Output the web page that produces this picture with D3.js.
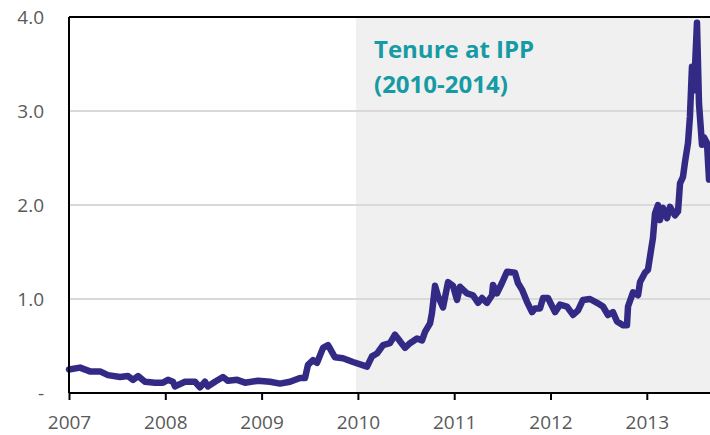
<!DOCTYPE html>
<html>
<head>
<meta charset="utf-8">
<script src="https://cdn.jsdelivr.net/npm/d3@7"></script>
<style>
  body { margin: 0; background: #fff; }
  text { font-family: "Open Sans", sans-serif; }
</style>
</head>
<body>
<svg id="chart" width="710" height="435"></svg>
<script>
// decimal years
let dates = [
  2007.000, 2007.114, 2007.218, 2007.322, 2007.405, 2007.530, 2007.613, 2007.665,
  2007.717, 2007.789, 2007.893, 2007.976, 2008.028, 2008.080, 2008.101, 2008.205,
  2008.308, 2008.360, 2008.412, 2008.443, 2008.516, 2008.599, 2008.651, 2008.745,
  2008.828, 2008.963, 2009.087, 2009.191, 2009.295, 2009.399, 2009.451, 2009.482,
  2009.534, 2009.575, 2009.638, 2009.690, 2009.762, 2009.845, 2009.949, 2010.095,
  2010.146, 2010.198, 2010.261, 2010.333, 2010.385, 2010.416, 2010.489, 2010.541,
  2010.614, 2010.666, 2010.697, 2010.749, 2010.769, 2010.801, 2010.832, 2010.884,
  2010.936, 2010.988, 2011.029, 2011.060, 2011.133, 2011.195, 2011.247, 2011.289,
  2011.341, 2011.393, 2011.403, 2011.444, 2011.496, 2011.548, 2011.631, 2011.662,
  2011.704, 2011.756, 2011.808, 2011.839, 2011.891, 2011.922, 2011.974, 2012.047,
  2012.099, 2012.171, 2012.234, 2012.286, 2012.337, 2012.410, 2012.483, 2012.545,
  2012.597, 2012.649, 2012.691, 2012.753, 2012.794, 2012.805, 2012.857, 2012.909,
  2012.930, 2012.981, 2013.012, 2013.044, 2013.064, 2013.085, 2013.116, 2013.137,
  2013.168, 2013.210, 2013.241, 2013.293, 2013.324, 2013.345, 2013.376, 2013.397,
  2013.428, 2013.448, 2013.469, 2013.490, 2013.521, 2013.542, 2013.573, 2013.594,
  2013.625, 2013.646
]
let values = [
  0.25, 0.27, 0.23, 0.23, 0.19, 0.17, 0.18, 0.14,
  0.18, 0.12, 0.11, 0.11, 0.14, 0.12, 0.07, 0.12,
  0.12, 0.06, 0.12, 0.07, 0.12, 0.17, 0.13, 0.14,
  0.11, 0.13, 0.12, 0.10, 0.12, 0.16, 0.16, 0.30,
  0.35, 0.32, 0.48, 0.51, 0.38, 0.37, 0.33, 0.28,
  0.39, 0.42, 0.51, 0.53, 0.62, 0.58, 0.48, 0.53,
  0.58, 0.56, 0.65, 0.74, 0.85, 1.14, 1.03, 0.91,
  1.18, 1.14, 0.99, 1.13, 1.06, 1.04, 0.96, 1.01,
  0.96, 1.04, 1.15, 1.06, 1.17, 1.29, 1.28, 1.17,
  1.10, 0.97, 0.86, 0.90, 0.90, 1.01, 1.01, 0.86,
  0.94, 0.92, 0.83, 0.88, 0.99, 1.00, 0.96, 0.92,
  0.83, 0.86, 0.76, 0.72, 0.72, 0.92, 1.07, 1.04,
  1.18, 1.28, 1.31, 1.52, 1.65, 1.91, 2.00, 1.84,
  1.97, 1.86, 1.98, 1.89, 1.93, 2.23, 2.30, 2.46,
  2.66, 2.94, 3.47, 3.22, 3.94, 3.08, 2.64, 2.72,
  2.66, 2.27
]
let yearTicks = [2007, 2008, 2009, 2010, 2011, 2012, 2013]
let yTicks = [0, 1, 2, 3, 4]
let yLabels = ["-", "1.0", "2.0", "3.0", "4.0"]
let tenureStart = 2010, tenureEnd = 2014
let noteLines = ["Tenure at IPP", "(2010-2014)"]

let width = 710, height = 435
let margin = {top: 17, left: 69, bottom: 42}

let scales = {
  x: d3.scaleLinear().domain([2007, 2014]).range([margin.left, margin.left + 96.3 * 7]),
  y: d3.scaleLinear().domain([0, 4]).range([height - margin.bottom, margin.top])
}

let svg = d3.select("#chart")
let x0 = scales.x(2007), yb = scales.y(0), yt = scales.y(4)

// shaded tenure band
svg.append("rect")
  .attr("x", scales.x(tenureStart) - 2)
  .attr("y", yt)
  .attr("width", scales.x(tenureEnd) - scales.x(tenureStart))
  .attr("height", yb - yt)
  .attr("fill", "#f0f0f0")

// gridlines
svg.append("g")
  .selectAll("line")
  .data(yTicks.filter(d => d > 0 && d < 4)).enter()
  .append("line")
  .attr("x1", x0).attr("x2", width)
  .attr("y1", d => scales.y(d)).attr("y2", d => scales.y(d))
  .attr("stroke", "#d9d9d9")
  .attr("stroke-width", 2)

// note
svg.append("text")
  .attr("fill", "#169aa4")
  .attr("font-weight", "bold")
  .attr("font-size", 24)
  .selectAll("tspan")
  .data(noteLines).enter()
  .append("tspan")
  .attr("x", 374)
  .attr("y", (d, i) => 58 + i * 35)
  .text(d => d)

// line
let line_generator = d3.line()
  .x((d, i) => scales.x(dates[i]))
  .y(d => scales.y(d))

svg.append("path")
  .datum(values)
  .attr("d", line_generator)
  .attr("fill", "none")
  .attr("stroke", "#322a84")
  .attr("stroke-width", 6.5)
  .attr("stroke-linejoin", "round")
  .attr("stroke-linecap", "round")

// frame: top and left
svg.append("line")
  .attr("x1", x0).attr("x2", width)
  .attr("y1", yt).attr("y2", yt)
  .attr("stroke", "#000").attr("stroke-width", 2)
svg.append("line")
  .attr("x1", x0).attr("x2", x0)
  .attr("y1", yt).attr("y2", yb)
  .attr("stroke", "#000").attr("stroke-width", 2)

// x axis
let x_axis = d3.axisBottom(scales.x)
  .tickValues(yearTicks)
  .tickFormat(d3.format("d"))
  .tickSizeInner(7)
  .tickSizeOuter(0)
  .tickPadding(16)

let gx = svg.append("g")
  .attr("transform", `translate(0, ${yb})`)
  .call(x_axis)
gx.select(".domain").attr("stroke", "#000").attr("stroke-width", 2)
  .attr("d", `M${x0},0H${width}`)
gx.selectAll(".tick line").attr("stroke", "#000").attr("stroke-width", 2)
gx.selectAll(".tick text")
  .attr("font-family", "Open Sans")
  .attr("font-size", 19)
  .attr("fill", "#595959")

// y labels
svg.append("g")
  .selectAll("text")
  .data(yTicks).enter()
  .append("text")
  .attr("x", 44)
  .attr("y", d => scales.y(d))
  .attr("dy", "0.35em")
  .attr("text-anchor", "end")
  .attr("font-size", 19)
  .attr("fill", "#595959")
  .text((d, i) => yLabels[i])
</script>
</body>
</html>
